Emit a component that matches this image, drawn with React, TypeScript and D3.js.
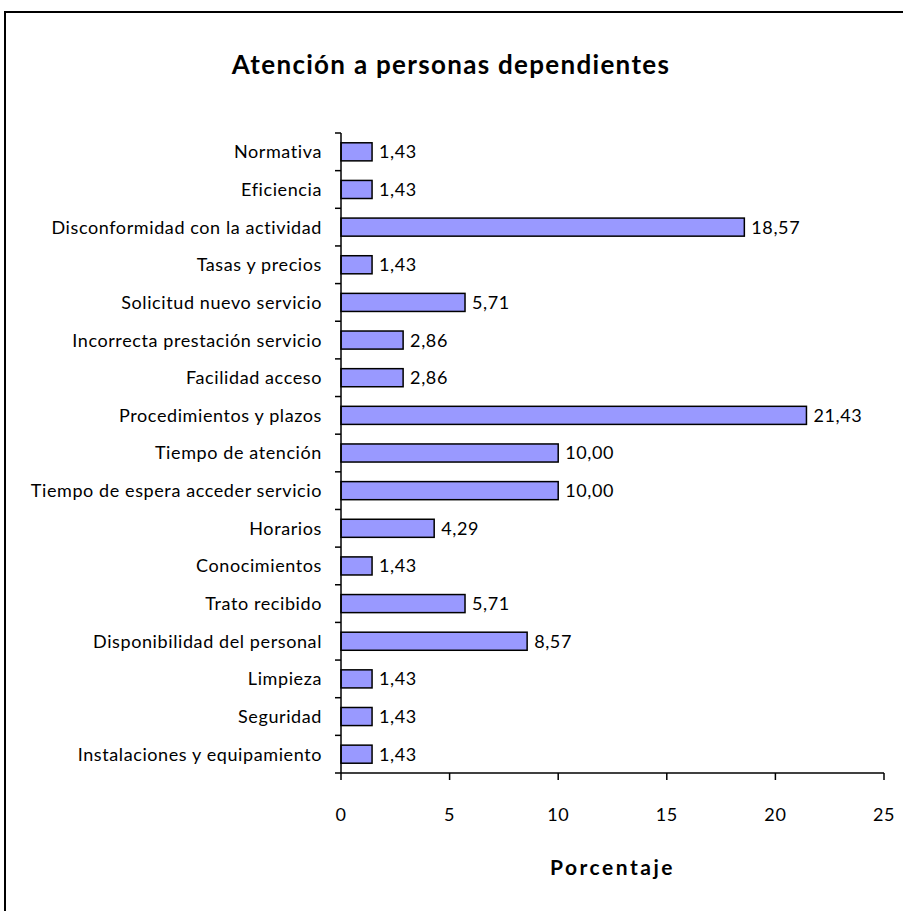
import React from 'react';
import * as d3 from 'd3';

// categories top to bottom
const categories = [
    'Normativa',
    'Eficiencia',
    'Disconformidad con la actividad',
    'Tasas y precios',
    'Solicitud nuevo servicio',
    'Incorrecta prestación servicio',
    'Facilidad acceso',
    'Procedimientos y plazos',
    'Tiempo de atención',
    'Tiempo de espera acceder servicio',
    'Horarios',
    'Conocimientos',
    'Trato recibido',
    'Disponibilidad del personal',
    'Limpieza',
    'Seguridad',
    'Instalaciones y equipamiento',
];
const values = [1.43, 1.43, 18.57, 1.43, 5.71, 2.86, 2.86, 21.43, 10.0, 10.0, 4.29, 1.43, 5.71, 8.57, 1.43, 1.43, 1.43];
const xTicks = [0, 5, 10, 15, 20, 25];

const title = 'Atención a personas dependientes';
const xTitle = 'Porcentaje';

export default function App() {
    const width = 903;
    const height = 911;
    const margin = { top: 133, right: 19, bottom: 138, left: 341 };
    const innerWidth = width - margin.left - margin.right;
    const innerHeight = height - margin.top - margin.bottom;
    const font = 'Lato, "Open Sans", sans-serif';

    const x = d3.scaleLinear().domain([0, 25]).range([0, innerWidth]);
    const y = d3.scaleBand<string>().domain(categories).range([0, innerHeight]).paddingInner(0.52).paddingOuter(0.26);
    const step = innerHeight / categories.length;
    const fmt = (v: number) => v.toFixed(2).replace('.', ',');

    return (
        <svg width={width} height={height} style={{ position: 'absolute', left: 0, top: 0, fontFamily: font }}>
            <rect x={0} y={0} width={width} height={height} fill="#fff" />
            {/* chart border */}
            <rect x={5} y={12} width={width + 10} height={height + 10} fill="none" stroke="#000" strokeWidth={2} />

            <text x={451} y={74} textAnchor="middle" fontSize={26} fontWeight="bold" letterSpacing={1.3} fill="#000">{title}</text>

            <g transform={`translate(${margin.left},${margin.top})`}>
                {/* bars */}
                {categories.map((c, i) => (
                    <g key={c}>
                        <rect
                            x={x(0)}
                            y={y(c)}
                            width={x(values[i]) - x(0)}
                            height={y.bandwidth()}
                            fill="#9999FF"
                            stroke="#000"
                            strokeWidth={1.5}
                        />
                        <text
                            x={x(values[i]) + 7}
                            y={(y(c) || 0) + y.bandwidth() / 2}
                            dy="0.36em"
                            fontSize={18}
                            letterSpacing={0.6}
                            fill="#000"
                        >
                            {fmt(values[i])}
                        </text>
                        <text
                            x={-19}
                            y={(y(c) || 0) + y.bandwidth() / 2}
                            dy="0.36em"
                            textAnchor="end"
                            fontSize={18}
                            letterSpacing={0.6}
                            fill="#000"
                        >
                            {c}
                        </text>
                    </g>
                ))}

                {/* category axis */}
                <line x1={0} x2={0} y1={0} y2={innerHeight} stroke="#000" strokeWidth={1.5} />
                {d3.range(categories.length + 1).map(i => (
                    <line key={i} x1={-6} x2={0} y1={i * step} y2={i * step} stroke="#000" strokeWidth={1.5} />
                ))}

                {/* value axis */}
                <line x1={0} x2={innerWidth} y1={innerHeight} y2={innerHeight} stroke="#000" strokeWidth={1.5} />
                {xTicks.map(t => (
                    <g key={t} transform={`translate(${x(t)},${innerHeight})`}>
                        <line y1={0} y2={7} stroke="#000" strokeWidth={1.5} />
                        <text y={48} textAnchor="middle" fontSize={18} letterSpacing={0.6} fill="#000">{t}</text>
                    </g>
                ))}

                <text x={innerWidth / 2} y={innerHeight + 102} textAnchor="middle" fontSize={21} fontWeight="bold" letterSpacing={2.5} fill="#000">
                    {xTitle}
                </text>
            </g>
        </svg>
    );
}
